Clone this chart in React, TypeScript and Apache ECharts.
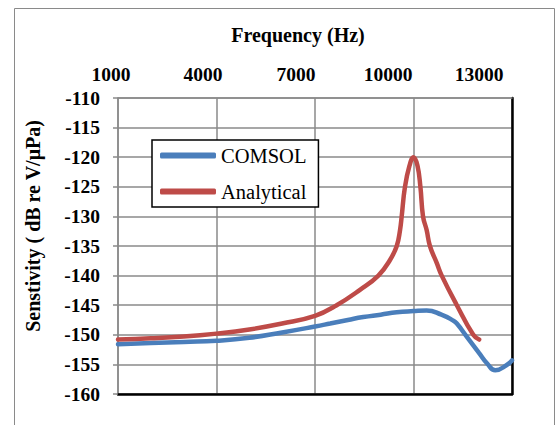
import { useEffect, useRef } from "react";
import * as echarts from "echarts";

// Frequency axis range (Hz) and sensitivity axis range (dB re V/μPa)
const X_START = 1000;
const X_END = 13000;
const X_STEP = 3000;
const Y_MIN = -160;
const Y_MAX = -110;
const Y_STEP = 5;

const xTickLabels = ["1000", "4000", "7000", "10000", "13000"];

// COMSOL simulation
const comsolFreq = [1000, 2000, 3000, 4000, 5000, 6000, 7000, 7460, 8000, 8470, 9000, 9490, 10000, 10400, 10850, 11210, 11320, 11620, 12000, 12250, 12490, 12840, 13000];
const comsolSens = [-151.6, -151.4, -151.2, -151.0, -150.5, -149.6, -148.6, -148.1, -147.5, -147.0, -146.6, -146.2, -146.0, -145.9, -146.6, -147.6, -148.1, -150.3, -153.1, -154.9, -156.0, -155.1, -154.3];

// Analytical model
const analyticalFreq = [1000, 2000, 3000, 4000, 5000, 6000, 7000, 7660, 8370, 8930, 9280, 9490, 9590, 9640, 9740, 9880, 10000, 10120, 10210, 10290, 10400, 10500, 10710, 10860, 11320, 11820, 12000];
const analyticalSens = [-150.8, -150.6, -150.3, -149.8, -149.1, -148.1, -146.8, -145.0, -142.4, -140.0, -137.4, -135.0, -132.3, -130.0, -125.0, -121.4, -120.0, -121.4, -125.0, -130.0, -132.3, -135.0, -137.9, -140.0, -145.0, -150.0, -150.8];

const SERIF = "Liberation Serif";

// horizontal nudge (px) applied to each frequency label
const labelShift = [-7, -13.5, -19, -25.5, -33];

export default function App() {
  const ref = useRef<HTMLDivElement>(null);

  useEffect(() => {
    if (!ref.current) return;
    const chart = echarts.init(ref.current, undefined, { renderer: "svg" });

    const pairs = (xs: number[], ys: number[]) => xs.map((f, i) => [f - X_START, ys[i]]);

    const rich: Record<string, any> = {};
    labelShift.forEach((s, i) => {
      rich["t" + i] = {
        fontFamily: SERIF,
        fontSize: 19.5,
        fontWeight: "bold",
        color: "#000",
        padding: [0, Math.abs(s) * 2, 0, 0],
      };
    });

    chart.setOption({
      animation: false,
      backgroundColor: "#fff",
      textStyle: { fontFamily: SERIF },
      grid: { left: 118, right: 44, top: 98, bottom: 31, containLabel: false },
      graphic: [
        {
          type: "rect",
          z: -10,
          shape: { x: 14.5, y: 8.5, width: 540, height: 430 },
          style: { fill: "none", stroke: "#8a8a8a", lineWidth: 1 },
        },
        {
          type: "text",
          x: 298,
          y: 35,
          style: {
            text: "Frequency (Hz)",
            fontFamily: SERIF,
            fontSize: 20,
            fontWeight: "bold",
            fill: "#000",
            textAlign: "center",
            textVerticalAlign: "middle",
          },
        },
        {
          type: "text",
          x: 33,
          y: 226,
          rotation: Math.PI / 2,
          style: {
            text: "Senstivity ( dB re V/μPa)",
            fontFamily: SERIF,
            fontSize: 20,
            fontWeight: "bold",
            fill: "#000",
            textAlign: "center",
            textVerticalAlign: "middle",
          },
        },
      ],
      legend: {
        orient: "vertical",
        left: 152,
        top: 140,
        padding: [5, 12, 5, 8],
        itemGap: 15,
        itemWidth: 56,
        itemHeight: 6,
        icon: "roundRect",
        borderColor: "#000",
        borderWidth: 1.5,
        backgroundColor: "#fff",
        textStyle: { fontFamily: SERIF, fontSize: 20.5, color: "#000" },
        data: ["COMSOL", "Analytical"],
      },
      xAxis: [
        {
          type: "value",
          position: "top",
          min: 0,
          max: X_END - X_START,
          interval: X_STEP,
          axisLine: { show: true, lineStyle: { color: "#8a8a8a", width: 1.5 } },
          axisTick: { show: false },
          splitLine: { show: true, lineStyle: { color: "#8a8a8a", width: 1.5 } },
          axisLabel: {
            margin: 14,
            formatter: (v: number) => {
              const i = Math.round(v / X_STEP);
              return `{t${i}|${xTickLabels[i]}}`;
            },
            rich,
          },
        },
        {
          type: "value",
          position: "bottom",
          min: 0,
          max: X_END - X_START,
          axisLine: { show: true, onZero: false, lineStyle: { color: "#000", width: 2.5 } },
          axisTick: { show: false },
          axisLabel: { show: false },
          splitLine: { show: false },
        },
      ],
      yAxis: [
        {
          type: "value",
          min: Y_MIN,
          max: Y_MAX,
          interval: Y_STEP,
          axisLine: { show: true, onZero: false, lineStyle: { color: "#8a8a8a", width: 1.5 } },
          axisTick: { show: true, inside: false, length: 5, lineStyle: { color: "#8a8a8a", width: 1.5 } },
          splitLine: { show: true, lineStyle: { color: "#8a8a8a", width: 1.5 } },
          axisLabel: {
            margin: 18,
            fontFamily: SERIF,
            fontSize: 19.5,
            fontWeight: "bold",
            color: "#000",
          },
        },
        {
          type: "value",
          position: "right",
          min: Y_MIN,
          max: Y_MAX,
          axisLine: { show: true, onZero: false, lineStyle: { color: "#000", width: 2.5 } },
          axisTick: { show: false },
          axisLabel: { show: false },
          splitLine: { show: false },
        },
      ],
      series: [
        {
          name: "COMSOL",
          type: "line",
          xAxisIndex: 0,
          yAxisIndex: 0,
          data: pairs(comsolFreq, comsolSens),
          smooth: 0.5,
          showSymbol: false,
          color: "#4a7ebb",
          lineStyle: { color: "#4a7ebb", width: 4.5, cap: "round" },
          z: 3,
        },
        {
          name: "Analytical",
          type: "line",
          xAxisIndex: 0,
          yAxisIndex: 0,
          data: pairs(analyticalFreq, analyticalSens),
          smooth: 0.45,
          showSymbol: false,
          color: "#be4b48",
          lineStyle: { color: "#be4b48", width: 4.5, cap: "round" },
          z: 4,
        },
      ],
    });

    return () => chart.dispose();
  }, []);

  return (
    <div
      ref={ref}
      style={{ position: "fixed", left: 0, top: 0, width: 556, height: 425, background: "#fff" }}
    />
  );
}
